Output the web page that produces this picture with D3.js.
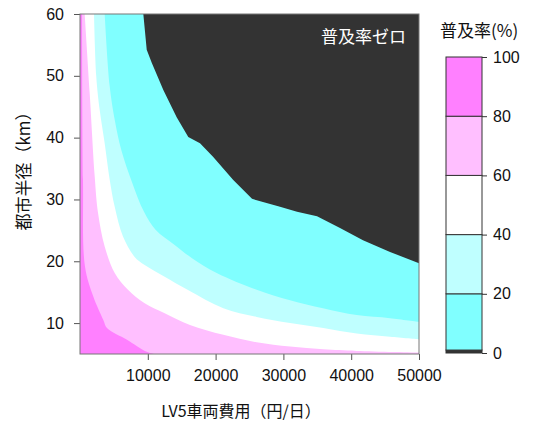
<!DOCTYPE html>
<html>
<head>
<meta charset="utf-8">
<script src="https://cdn.jsdelivr.net/npm/d3@7"></script>
<style>
  body { margin: 0; background: #fff; }
  svg text { font-family: "Liberation Sans", Arial, "Noto Sans CJK JP", sans-serif; fill: #111; }
  .jp { font-family: "Noto Sans CJK JP", sans-serif; }
</style>
</head>
<body>
<svg id="chart" width="533" height="421"></svg>
<script>
// axis ticks
const costTicks = [10000, 20000, 30000, 40000, 50000]
const radiusTicks = [10, 20, 30, 40, 50, 60]
const legendTicks = [0, 20, 40, 60, 80, 100]

// colour bands: zero, 0-20, 20-40, 40-60, 60-80, 80-100
const legendBreaks = [0, 1, 20, 40, 60, 80, 100]
const bandColors = ['#333333', '#80ffff', '#bfffff', '#ffffff', '#ffbfff', '#ff80ff']

// contour boundaries: [cost (円/日), radius (km)]
const edge0 = [[9340, 60], [9840, 54.2], [10580, 52.1], [12290, 47.7], [14260, 43.3], [15970, 40.1],
  [17700, 39.1], [19620, 36.9], [22570, 33.2], [25370, 30.1], [29500, 28.8], [32010, 28.0],
  [34960, 27.3], [38350, 25.4], [41740, 23.4], [45730, 21.5], [50000, 19.7]]
const edge20 = [[3640, 60], [4380, 48.3], [5120, 42.9], [6090, 38.0], [7670, 32.8], [9440, 28.0],
  [11140, 25.1], [14010, 22.6], [16520, 20.5], [20160, 18.1], [26060, 15.4], [30980, 13.7],
  [35840, 12.4], [40810, 11.3], [45730, 10.8], [50000, 10.2]]
const edge40 = [[2070, 60], [2400, 49.9], [2900, 44.5], [3640, 39.1], [4380, 33.2], [5120, 28.8],
  [6340, 24.0], [8060, 20.7], [9540, 19.4], [12490, 17.5], [16000, 15.3], [21140, 12.4],
  [26060, 11.0], [30980, 10.0], [35890, 9.2], [40810, 8.3], [45730, 7.8], [50000, 7.4]]
const edge60 = [[690, 60], [1430, 47.2], [2170, 33.7], [2660, 27.8], [3640, 22.4], [5120, 18.1],
  [7080, 15.4], [9540, 13.2], [12490, 11.6], [16220, 9.7], [21140, 8.1], [26060, 6.9],
  [30980, 6.2], [35890, 5.75], [40810, 5.5], [50000, 5.25]]
const edge80 = [[300, 60], [440, 33.2], [740, 19.1], [1960, 14.3], [3440, 10.5], [3980, 9.2],
  [6930, 7.3], [9740, 5.4], [10920, 5]]

const svg = d3.select('#chart')
const x = d3.scaleLinear().domain([0, 50000]).range([80, 419])
const y = d3.scaleLinear().domain([5, 60]).range([354, 14])

// zero region fills the whole plot, the other bands are stacked on top
svg.append('rect')
  .attr('x', x(0)).attr('y', y(60))
  .attr('width', x(50000) - x(0)).attr('height', y(5) - y(60))
  .attr('fill', bandColors[0])

const sharp = d3.line().x(d => x(d[0])).y(d => y(d[1]))
const smooth = d3.line().curve(d3.curveCatmullRom.alpha(0.5)).x(d => x(d[0])).y(d => y(d[1]))
const edges = [edge0, edge20, edge40, edge60, edge80]
edges.forEach((e, i) => {
  const last = e[e.length - 1]
  const gen = i === 0 ? sharp : smooth
  // close the band along the bottom and left edges of the plot
  const corners = [[last[0], 5], [0, 5], [0, 60]]
    .map(p => `L${x(p[0])},${y(p[1])}`).join('')
  svg.append('path')
    .attr('d', gen(e) + corners + 'Z')
    .attr('fill', bandColors[i + 1])
})

svg.append('text').attr('class', 'jp')
  .attr('x', 406).attr('y', 43)
  .attr('text-anchor', 'end')
  .attr('font-size', 17)
  .style('fill', '#fff')
  .text('普及率ゼロ')

// axes
const xAxis = svg.append('g').attr('transform', `translate(0,${y(5)})`)
  .call(d3.axisBottom(x).tickValues(costTicks).tickSize(6).tickPadding(10).tickFormat(d3.format('d')))
const yAxis = svg.append('g').attr('transform', `translate(${x(0)},0)`)
  .call(d3.axisLeft(y).tickValues(radiusTicks).tickSize(6).tickPadding(10))
;[xAxis, yAxis].forEach(a => {
  a.select('.domain').remove()
  a.selectAll('line').attr('stroke', '#555')
  a.selectAll('text').attr('font-size', 16).style('fill', '#111')
})

svg.append('rect')
  .attr('x', x(0)).attr('y', y(60))
  .attr('width', x(50000) - x(0)).attr('height', y(5) - y(60))
  .attr('fill', 'none').attr('stroke', '#777')

svg.append('text').attr('class', 'jp')
  .attr('x', 241).attr('y', 417)
  .attr('text-anchor', 'middle').attr('font-size', 16)
  .text('LV5車両費用（円/日）')

svg.append('text').attr('class', 'jp')
  .attr('transform', 'translate(30,167) rotate(-90)')
  .attr('text-anchor', 'middle').attr('font-size', 17)
  .text('都市半径（km）')

// legend
const ly = d3.scaleLinear().domain([0, 100]).range([353, 57])
const legend = svg.append('g')
const bands = d3.pairs(legendBreaks)
legend.selectAll('rect').data(bands).join('rect')
  .attr('x', 446).attr('width', 36)
  .attr('y', d => ly(d[1])).attr('height', d => ly(d[0]) - ly(d[1]))
  .attr('fill', (d, i) => bandColors[i])
  .attr('stroke', '#333').attr('stroke-width', 1)
legend.append('g').attr('transform', 'translate(482,0)')
  .call(d3.axisRight(ly).tickValues(legendTicks).tickSize(5).tickPadding(6))
  .call(a => a.select('.domain').remove())
  .call(a => a.selectAll('line').attr('stroke', '#333'))
  .call(a => a.selectAll('text').attr('font-size', 16).style('fill', '#111'))

svg.append('text').attr('class', 'jp')
  .attr('x', 440).attr('y', 37)
  .attr('font-size', 17)
  .text('普及率(%)')
</script>
</body>
</html>
